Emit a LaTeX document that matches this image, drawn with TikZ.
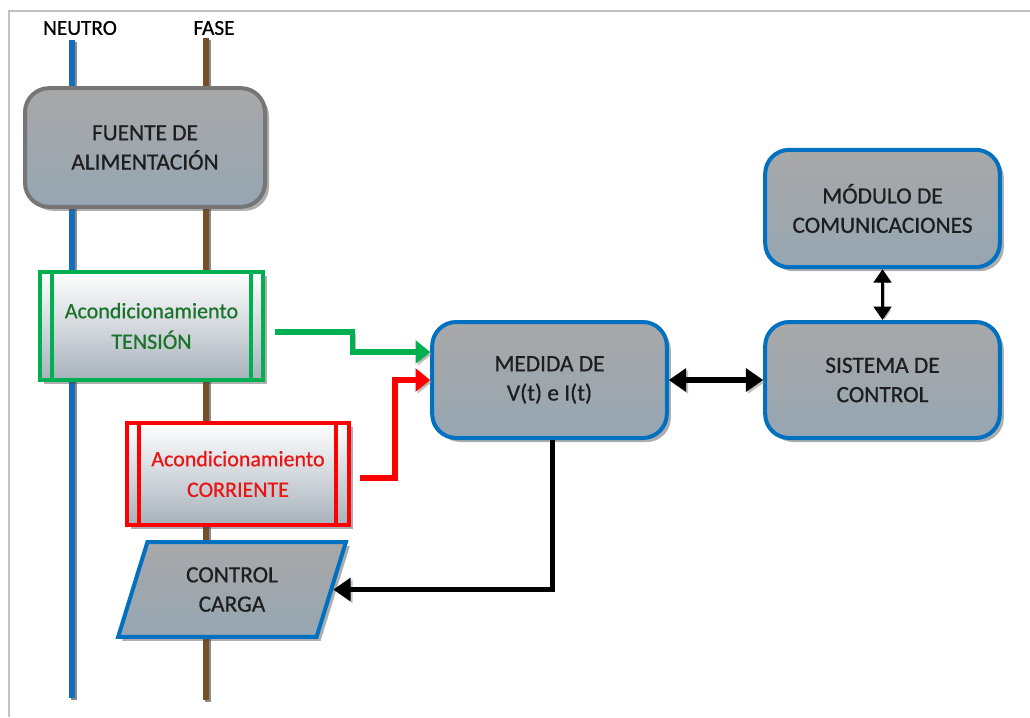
\documentclass[tikz,border=0pt]{standalone}
\usepackage{fontspec}
\setmainfont{Carlito}
\newfontfamily\semib{Carlito}[FakeBold=0.7]
\usetikzlibrary{shapes.geometric,shadows,arrows.meta,calc}
\definecolor{bblue}{RGB}{0,112,192}
\definecolor{wblue}{RGB}{20,110,190}
\definecolor{brownw}{RGB}{120,78,40}
\definecolor{gborder}{RGB}{118,118,118}
\definecolor{gtop}{RGB}{168,168,168}
\definecolor{gbot}{RGB}{150,166,178}
\definecolor{abot}{RGB}{168,178,188}
\definecolor{ggreen}{RGB}{0,176,80}
\definecolor{gtext}{RGB}{25,115,40}
\definecolor{rred}{RGB}{255,0,0}
\definecolor{rtext}{RGB}{235,20,20}
\definecolor{txt}{RGB}{30,30,30}
\definecolor{frame}{RGB}{195,195,195}
\begin{document}
\begin{tikzpicture}[x=0.75pt,y=-0.75pt,
  shad/.style={drop shadow={shadow xshift=3pt,shadow yshift=-3pt,opacity=.45,fill=black!70}},
  graybox/.style={rectangle,rounded corners=18pt,top color=gtop,bottom color=gbot,
    line width=3pt,align=center,text=txt,font=\semib\fontsize{17.5}{22}\selectfont,shad},
  acbox/.style={rectangle,top color=white,bottom color=abot,line width=3pt,align=center,
    font=\semib\fontsize{16.5}{23}\selectfont,shad},
  wire/.style={line width=4.5pt,preaction={draw=black!45,line width=4.5pt,transform canvas={shift={(1.5pt,-1.5pt)}}}},
  lshad/.style={preaction={draw=black!40,opacity=.6,transform canvas={shift={(1.5pt,-1.5pt)}}}},
  conn/.style={line width=3.8pt,lshad,-{Triangle[length=11pt,width=17pt]}},
  bconn/.style={line width=3.8pt,draw=black,lshad},
  lbl/.style={font=\semib\fontsize{16}{18}\selectfont,text=black}
]
\useasboundingbox (0,0) rectangle (1030,717);
% frame
\draw[frame,line width=1.5pt] (1030,11) -- (9,11) -- (9,717);
% labels
\node[lbl] (neutro) at (80,28) {NEUTRO};
\node[lbl] (fase) at (214,28) {FASE};
% wires
\coordinate (n1) at (72,40); \coordinate (n2) at (72,698);
\coordinate (f1) at (206,38); \coordinate (f2) at (206,700);
\draw[wire,draw=wblue] (n1) -- (n2);
\draw[wire,draw=brownw] (f1) -- (f2);
% boxes
\node[graybox,draw=gborder,minimum width=180pt,minimum height=89pt] (fuente) at (145,147.5) {FUENTE DE\\ALIMENTACIÓN};
\node[acbox,draw=ggreen,minimum width=167pt,minimum height=81pt,text=gtext] (tension) at (151.5,326) {Acondicionamiento\\TENSIÓN};
\draw[ggreen,line width=3pt] ($(tension.north west)+(14,0)$) -- ($(tension.south west)+(14,0)$);
\draw[ggreen,line width=3pt] ($(tension.north east)+(-14,0)$) -- ($(tension.south east)+(-14,0)$);
\node[acbox,draw=rred,minimum width=166.5pt,minimum height=76.5pt,text=rtext] (corriente) at (238,474) {Acondicionamiento\\CORRIENTE};
\draw[rred,line width=3pt] ($(corriente.north west)+(14,0)$) -- ($(corriente.south west)+(14,0)$);
\draw[rred,line width=3pt] ($(corriente.north east)+(-15,0)$) -- ($(corriente.south east)+(-15,0)$);
\node[trapezium,trapezium left angle=72,trapezium right angle=108,trapezium stretches=true,
  minimum width=171pt,minimum height=71pt,draw=bblue,line width=3pt,top color=gtop,bottom color=gbot,
  align=center,text=txt,font=\semib\fontsize{17.5}{22}\selectfont,shad] (carga) at (232,589.5) {CONTROL\\CARGA};
\node[graybox,draw=bblue,minimum width=176pt,minimum height=87pt] (medida) at (549.5,380) {MEDIDA DE\\V(t) e I(t)};
\node[graybox,draw=bblue,minimum width=176pt,minimum height=87pt] (sistema) at (882.5,380) {SISTEMA DE\\CONTROL};
\node[graybox,draw=bblue,minimum width=176pt,minimum height=88pt] (modulo) at (882.5,208.5) {MÓDULO DE\\COMUNICACIONES};
% connectors
\draw[conn,draw=ggreen] ($(tension.east)+(10,6)$) -- ++(78,0) |- ($(medida.west)+(0,-28)$);
\draw[conn,draw=rred] ($(corriente.east)+(9,4)$) -- ++(35,0) |- (medida.west);
\draw[bconn,-{Triangle[length=13pt,width=17pt]}] ($(medida.south)+(3,0)$) |- (carga.east);
\draw[bconn,{Triangle[length=13pt,width=17pt]}-{Triangle[length=13pt,width=17pt]}] (medida.east) -- (sistema.west);
\draw[line width=2.5pt,lshad,{Triangle[length=10pt,width=13pt]}-{Triangle[length=10pt,width=13pt]}] (modulo.south) -- (sistema.north);
\end{tikzpicture}
\end{document}
